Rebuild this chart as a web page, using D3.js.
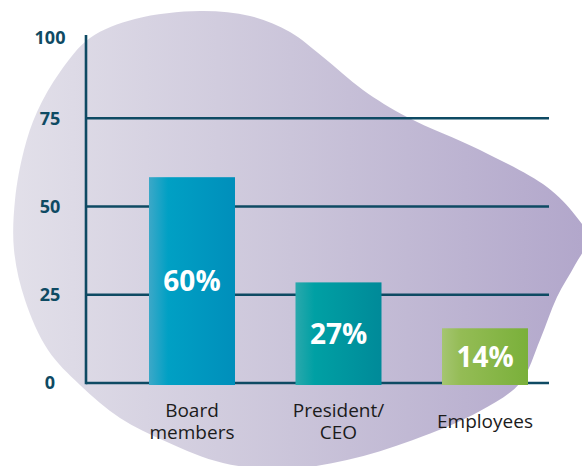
<!DOCTYPE html>
<html>
<head>
<meta charset="utf-8">
<script src="https://cdn.jsdelivr.net/npm/d3@7"></script>
<style>
    html, body { margin: 0; padding: 0; background: #fff; }
    svg { display: block; }
</style>
</head>
<body>
<div id="chart"></div>
<script>
// data
var categories  = [["Board", "members"], ["President/", "CEO"], ["Employees"]];
var barValues   = [58.3, 28.5, 15.5];      // bar heights as drawn
var valueLabels = ["60%", "27%", "14%"];   // printed labels
var yTicks      = [0, 25, 50, 75, 100];

// decorative blob outline (background shape)
var blobPts = [
    [200, 11], [250, 16], [290, 32], [323, 57], [363, 90], [407, 117], [480, 150],
    [547, 187], [575, 215], [588, 238], [575, 265], [557, 297], [540, 340],
    [520, 383], [480, 411], [413, 440], [347, 460], [285, 469], [223, 463],
    [167, 442], [120, 418], [80, 385], [48, 350], [25, 300], [14, 250],
    [15, 200], [24, 150], [37, 112], [60, 72], [90, 38], [135, 19]
];

var barColors = [
    ["#3ca8c8", "#00a0c4", "#008fbb"],
    ["#2aa8ac", "#00a0a4", "#008a99"],
    ["#a5c571", "#94bc55", "#7ab03a"]
];

var W = 582, H = 466;
var AXIS = "#0e4a63";

var svg = d3.select("#chart").append("svg")
    .attr("width", W)
    .attr("height", H);

var defs = svg.append("defs");

var bg = defs.append("linearGradient")
    .attr("id", "blob-grad")
    .attr("gradientUnits", "userSpaceOnUse")
    .attr("x1", 0).attr("x2", W).attr("y1", 0).attr("y2", 0);
bg.append("stop").attr("offset", "0%").attr("stop-color", "#e3e1ea");
bg.append("stop").attr("offset", "50%").attr("stop-color", "#cbc5da");
bg.append("stop").attr("offset", "100%").attr("stop-color", "#b2a7cb");

barColors.forEach(function (c, i) {
    var g = defs.append("linearGradient")
        .attr("id", "bar-grad-" + i)
        .attr("x1", "0%").attr("x2", "100%").attr("y1", "0%").attr("y2", "0%");
    g.append("stop").attr("offset", "0%").attr("stop-color", c[0]);
    g.append("stop").attr("offset", "22%").attr("stop-color", c[1]);
    g.append("stop").attr("offset", "100%").attr("stop-color", c[2]);
});

// blob
svg.append("path")
    .datum(blobPts)
    .attr("fill", "url(#blob-grad)")
    .attr("d", d3.line().curve(d3.curveCatmullRomClosed.alpha(0.5)));

// scales
var y = d3.scaleLinear().domain([0, 100]).range([383, 30]);
var x = d3.scaleBand()
    .domain(d3.range(categories.length))
    .range([149, 528])
    .paddingInner(0.413)
    .paddingOuter(0);

var axisX = 86, gridEnd = 549;

// gridlines
svg.append("g").selectAll("line")
    .data(yTicks.filter(function (v) { return v < 100; }))
    .join("line")
    .attr("x1", axisX).attr("x2", gridEnd)
    .attr("y1", function (d) { return y(d); })
    .attr("y2", function (d) { return y(d); })
    .attr("stroke", AXIS)
    .attr("stroke-width", 2.6);

// vertical axis line
svg.append("line")
    .attr("x1", axisX).attr("x2", axisX)
    .attr("y1", 35).attr("y2", y(0) + 1.3)
    .attr("stroke", AXIS)
    .attr("stroke-width", 2.6);

// tick labels
svg.append("g").selectAll("text")
    .data(yTicks)
    .join("text")
    .attr("x", 50)
    .attr("y", function (d) { return Math.max(y(d), 38); })
    .attr("dy", "0.36em")
    .attr("text-anchor", "middle")
    .attr("font-family", "'Open Sans', sans-serif")
    .attr("font-weight", 700)
    .attr("font-size", "18px")
    .attr("fill", AXIS)
    .text(function (d) { return d; });

// bars
svg.append("g").selectAll("rect")
    .data(barValues)
    .join("rect")
    .attr("x", function (d, i) { return x(i); })
    .attr("width", x.bandwidth())
    .attr("y", function (d) { return y(d); })
    .attr("height", function (d) { return y(0) - y(d) + 2; })
    .attr("fill", function (d, i) { return "url(#bar-grad-" + i + ")"; });

// value labels, centred in each bar
svg.append("g").selectAll("text")
    .data(barValues)
    .join("text")
    .attr("x", function (d, i) { return x(i) + x.bandwidth() / 2; })
    .attr("y", function (d) { return (y(d) + y(0) + 2) / 2; })
    .attr("dy", "0.36em")
    .attr("text-anchor", "middle")
    .attr("font-family", "'Open Sans', sans-serif")
    .attr("font-weight", 700)
    .attr("font-size", "28px")
    .attr("fill", "#fff")
    .text(function (d, i) { return valueLabels[i]; });

// category labels
var cat = svg.append("g").selectAll("text")
    .data(categories)
    .join("text")
    .attr("text-anchor", "middle")
    .attr("font-family", "'Open Sans', sans-serif")
    .attr("font-size", "19px")
    .attr("fill", "#1b1b1b")
    .attr("transform", function (d, i) {
        var top = d.length > 1 ? 417 : 428;
        return "translate(" + (x(i) + x.bandwidth() / 2) + "," + top + ")";
    });

cat.selectAll("tspan")
    .data(function (d) { return d; })
    .join("tspan")
    .attr("x", 0)
    .attr("y", function (d, i) { return i * 22; })
    .text(function (d) { return d; });
</script>
</body>
</html>
